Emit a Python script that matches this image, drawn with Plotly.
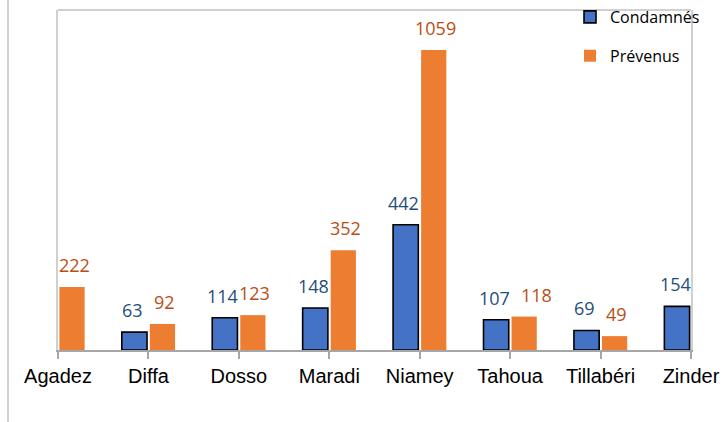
import plotly.graph_objects as go

regions = ["Agadez", "Diffa", "Dosso", "Maradi", "Niamey", "Tahoua", "Tillabéri", "Zinder"]
condamnes = [None, 63, 114, 148, 442, 107, 69, 154]
prevenus = [222, 92, 123, 352, 1059, 118, 49, None]

BLUE = "#4472C4"
ORANGE = "#ED7D31"
LBL_BLUE = "#1F4E79"
LBL_ORANGE = "#B84E14"

# extra horizontal nudges (px) for some data labels, as in the reference
label_nudge = {("Prévenus", "Tahoua"): 10}

W, H = 724, 422
L, R, T, B = 58, 33, 10, 72
PH = H - T - B
PW = W - L - R

fig = go.Figure()
fig.add_trace(go.Bar(
    name="Condamnés", x=regions, y=condamnes, legendgroup="a",
    marker=dict(color=BLUE, line=dict(color="#000000", width=1.6)),
    hoverinfo="skip",
))
fig.add_trace(go.Bar(
    name="Prévenus", x=regions, y=prevenus, legendgroup="b",
    marker=dict(color=ORANGE, line=dict(width=0)),
    hoverinfo="skip",
))

ann = []
for i, r in enumerate(regions):
    for name, vals, shift, col in (("Condamnés", condamnes, -16, LBL_BLUE),
                                   ("Prévenus", prevenus, 16, LBL_ORANGE)):
        v = vals[i]
        if v is None:
            continue
        ann.append(dict(
            x=r, y=v, xref="x", yref="y", text=str(v), showarrow=False,
            xshift=shift + label_nudge.get((name, r), 0), yshift=8,
            yanchor="bottom", xanchor="center",
            font=dict(family="Open Sans", size=18, color=col),
        ))

shapes = [
    dict(type="line", xref="paper", yref="paper",
         x0=(8 - L) / PW, x1=(8 - L) / PW, y0=1.1, y1=-0.3,
         line=dict(color="#d0d0d0", width=2)),
    dict(type="line", xref="paper", yref="paper", x0=0, x1=1, y0=1, y1=1,
         line=dict(color="#d0d0d0", width=2)),
]

fig.update_layout(
    width=W, height=H,
    margin=dict(l=L, r=R, t=T, b=B, autoexpand=False),
    paper_bgcolor="white", plot_bgcolor="white",
    barmode="group", bargap=0.38, bargroupgap=0.1,
    showlegend=True,
    legend=dict(
        xref="container", yref="paper",
        x=570 / W, y=1 + 10 / PH, xanchor="left", yanchor="top",
        font=dict(family="Open Sans", size=16, color="#000000"),
        traceorder="grouped", tracegroupgap=15,
        bgcolor="rgba(0,0,0,0)", itemclick=False,
    ),
    xaxis=dict(
        type="category", range=[0, 7],
        showline=True, linecolor="#a6a6a6", linewidth=2,
        mirror=False, ticks="outside", ticklen=7, tickcolor="#a6a6a6", tickwidth=2,
        tickfont=dict(family="Liberation Sans, Arial", size=20, color="#000000"),
        showgrid=False, fixedrange=True,
    ),
    yaxis=dict(
        range=[0, 1200], showticklabels=False, showgrid=False, zeroline=False,
        showline=True, linecolor="#d0d0d0", linewidth=2, mirror=True, ticks="",
        fixedrange=True,
    ),
    annotations=ann,
    shapes=shapes,
)

fig.write_html(
    "out.html",
    config={"displayModeBar": False},
    post_script="document.body.style.margin='0';document.body.style.overflow='hidden';",
)
